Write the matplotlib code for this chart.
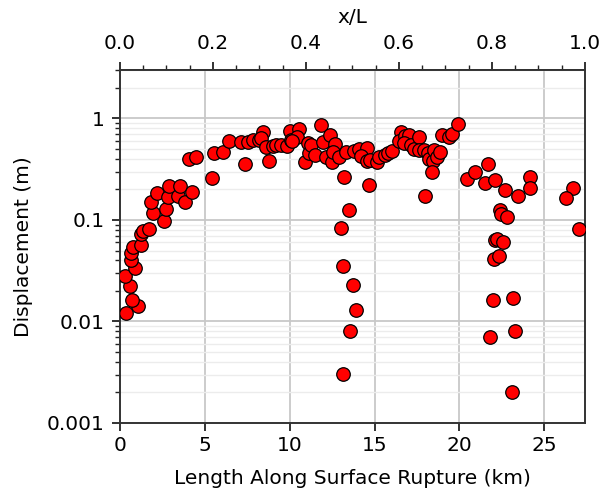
import matplotlib
matplotlib.use("Agg")
import matplotlib.pyplot as plt
import numpy as np

# Length along rupture (km)
x_km = [
    0.33, 1.06, 0.69, 0.60, 0.27, 0.88, 0.65, 0.65, 0.78, 1.22, 1.24, 1.37, 1.71,
    2.57, 1.94, 2.73, 1.84, 2.20, 2.80, 2.86, 3.41, 3.53, 3.84, 4.24, 5.43,
    4.08, 4.49, 5.55, 6.08, 6.43, 7.37, 7.16, 7.53, 7.84, 8.18, 8.45, 8.33, 8.63,
    8.80, 9.00, 9.18, 9.50, 9.82, 10.00, 10.06, 10.55, 10.43, 10.16, 10.88, 11.08,
    11.14, 11.23, 11.47, 11.82, 11.96, 12.39, 12.16, 12.49, 12.70, 12.55, 12.88,
    13.33, 13.20, 13.80, 14.08, 14.57, 14.20, 14.57, 14.75, 14.65, 15.16, 15.29,
    15.59, 15.78, 16.02, 16.57, 16.47, 16.80, 16.86, 17.06, 16.76, 17.16, 17.35,
    17.65, 17.60, 17.94, 18.14, 18.24, 18.43, 18.53, 18.70, 18.86, 18.37, 17.98,
    18.98, 19.41, 19.55, 19.94, 20.45, 20.92, 21.67, 21.49, 22.08, 22.67, 23.47,
    24.18, 24.16, 22.39, 22.47, 22.80, 26.67, 26.27, 27.04, 22.12, 22.24, 22.60,
    22.02, 22.35, 22.00, 23.19, 21.78, 23.29, 23.08,
    13.47, 13.02, 13.16, 13.76, 13.92, 13.53, 13.16,
]

# Displacement (m)
disp_m = [
    0.0121, 0.0143, 0.0162, 0.0223, 0.0282, 0.0333, 0.0399, 0.0468, 0.0537, 0.057,
    0.072, 0.078, 0.082,
    0.098, 0.118, 0.129, 0.152, 0.185, 0.169, 0.218, 0.174, 0.215, 0.150, 0.190, 0.26,
    0.40, 0.42, 0.458, 0.472, 0.60, 0.357, 0.58, 0.58, 0.61, 0.62, 0.74, 0.635, 0.525,
    0.385, 0.53, 0.55, 0.55, 0.537, 0.76, 0.62, 0.79, 0.65, 0.60, 0.373, 0.57,
    0.46, 0.545, 0.434, 0.867, 0.58, 0.684, 0.418, 0.373, 0.56, 0.465, 0.418,
    0.47, 0.266, 0.483, 0.50, 0.513, 0.43, 0.38, 0.39, 0.22, 0.37, 0.418,
    0.438, 0.458, 0.476, 0.74, 0.60, 0.67, 0.58, 0.68, 0.575, 0.55, 0.50,
    0.65, 0.487, 0.487, 0.458, 0.40, 0.38, 0.49, 0.42, 0.47, 0.295, 0.174,
    0.684, 0.66, 0.71, 0.89, 0.254, 0.298, 0.36, 0.232, 0.25, 0.196, 0.171,
    0.266, 0.207, 0.126, 0.115, 0.106, 0.207, 0.163, 0.081, 0.064, 0.065, 0.060,
    0.041, 0.044, 0.0161, 0.0172, 0.00705, 0.00807, 0.00202,
    0.124, 0.0826, 0.0351, 0.023, 0.0131, 0.0080, 0.00304,
]

rupture_length = 27.4
top_ticks = [0.0, 0.2, 0.4, 0.6, 0.8, 1.0]
x_ticks = [0, 5, 10, 15, 20, 25]
y_ticks = [0.001, 0.01, 0.1, 1]
y_ticklabels = ["0.001", "0.01", "0.1", "1"]

FS = 14.5
plt.rcParams["font.family"] = ["DejaVu Sans"]
fig = plt.figure(figsize=(6.03, 4.95), dpi=100)
ax = fig.add_axes([0.199, 0.1455, 0.771, 0.713])

ax.scatter(x_km, disp_m, s=95, facecolor="red", edgecolor="black",
           linewidth=0.9, zorder=3)

ax.set_yscale("log")
ax.set_ylim(0.001, 3.0)
ax.set_xlim(0, rupture_length)
ax.set_xticks(x_ticks)
ax.set_yticks(y_ticks)
ax.set_yticklabels(y_ticklabels)

ax.grid(True, which="major", color="#c8c8c8", linewidth=1.3, zorder=0)
ax.grid(True, which="minor", axis="y", color="#ececec", linewidth=1.0, zorder=0)
ax.set_axisbelow(True)

ax.tick_params(axis="both", which="major", labelsize=FS, length=6, width=1.3,
               color="#222222")
ax.tick_params(axis="y", which="major", pad=5)
ax.tick_params(axis="y", which="minor", length=3.5, width=1.0, color="#222222")
ax.tick_params(axis="x", which="minor", bottom=False)
for sp in ax.spines.values():
    sp.set_linewidth(1.4)
    sp.set_color("#333333")

ax.set_xlabel("Length Along Surface Rupture (km)", fontsize=FS, labelpad=10)
ax.set_ylabel("Displacement (m)", fontsize=FS, labelpad=10)

sec = ax.secondary_xaxis("top", functions=(lambda v: v / rupture_length,
                                           lambda v: v * rupture_length))
sec.set_xticks(top_ticks)
sec.set_xticks(np.arange(0, 1.0001, 0.05), minor=True)
sec.tick_params(which="major", labelsize=FS, length=6, width=1.3, pad=6.5,
                color="#222222")
sec.tick_params(which="minor", length=3.5, width=1.0, color="#222222")
sec.set_xlabel("x/L", fontsize=FS, labelpad=8)
sec.spines["top"].set_linewidth(1.4)

fig.savefig("out.png", dpi=100)
